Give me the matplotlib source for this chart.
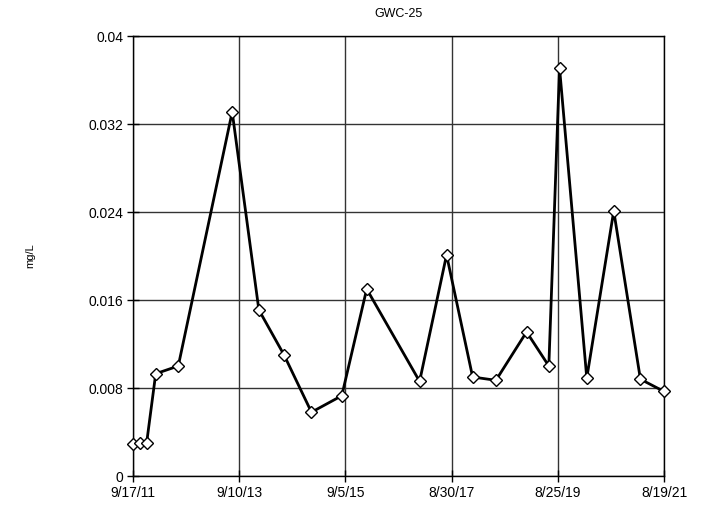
import matplotlib
matplotlib.use("Agg")
import matplotlib.pyplot as plt
import matplotlib.dates as mdates
import numpy as np
from datetime import datetime

plt.rcParams['font.family'] = ['Liberation Sans', 'DejaVu Sans']

# sample dates and concentrations (mg/L)
dates = ['2011-09-20', '2011-11-04', '2011-12-19', '2012-02-19', '2012-07-22',
         '2013-07-25', '2014-01-23', '2014-07-14', '2015-01-17', '2015-08-12',
         '2016-01-29', '2017-01-24', '2017-07-27', '2018-01-21', '2018-06-29',
         '2019-01-24', '2019-06-25', '2019-09-06', '2020-03-10', '2020-09-10',
         '2021-03-11', '2021-08-17']
values = [0.0029, 0.003, 0.003, 0.0093, 0.0100,
          0.0331, 0.0151, 0.0110, 0.0058, 0.0073,
          0.0170, 0.0086, 0.0201, 0.0090, 0.0087,
          0.0131, 0.0100, 0.0371, 0.0089, 0.0241,
          0.0088, 0.0077]

tick_dates = ['2011-09-17', '2013-09-10', '2015-09-05', '2017-08-30', '2019-08-25', '2021-08-19']
tick_labels = ['9/17/11', '9/10/13', '9/5/15', '8/30/17', '8/25/19', '8/19/21']
y_ticks = [0, 0.008, 0.016, 0.024, 0.032, 0.04]
y_labels = ['0', '0.008', '0.016', '0.024', '0.032', '0.04']

x = [datetime.strptime(d, '%Y-%m-%d') for d in dates]
xt = [datetime.strptime(d, '%Y-%m-%d') for d in tick_dates]

fig = plt.figure(figsize=(7.01, 5.09), dpi=100)
ax = fig.add_axes([133/701, 1-476/509, (664-133)/701, (476-36)/509])

ax.plot(x, values, color='black', lw=2, marker='D', ms=6.5,
        mfc='white', mec='black', mew=1, zorder=3, clip_on=False)

ax.set_xlim(xt[0], xt[-1])
ax.set_ylim(0, 0.04)
ax.set_xticks(xt)
ax.set_xticklabels(tick_labels, fontsize=10)
ax.set_yticks(y_ticks)
ax.set_yticklabels(y_labels, fontsize=10)
ax.tick_params(direction='inout', length=8, width=1, color='black', pad=3)

ax.grid(True, color='#333333', lw=1)
for s in ax.spines.values():
    s.set_color('black')
    s.set_linewidth(1)

ax.set_title('GWC-25', fontsize=9, pad=14)
fig.text(30/701, 1-256/509, 'mg/L', rotation=90, fontsize=8, ha='center', va='center')

fig.savefig('out.png', dpi=100)
